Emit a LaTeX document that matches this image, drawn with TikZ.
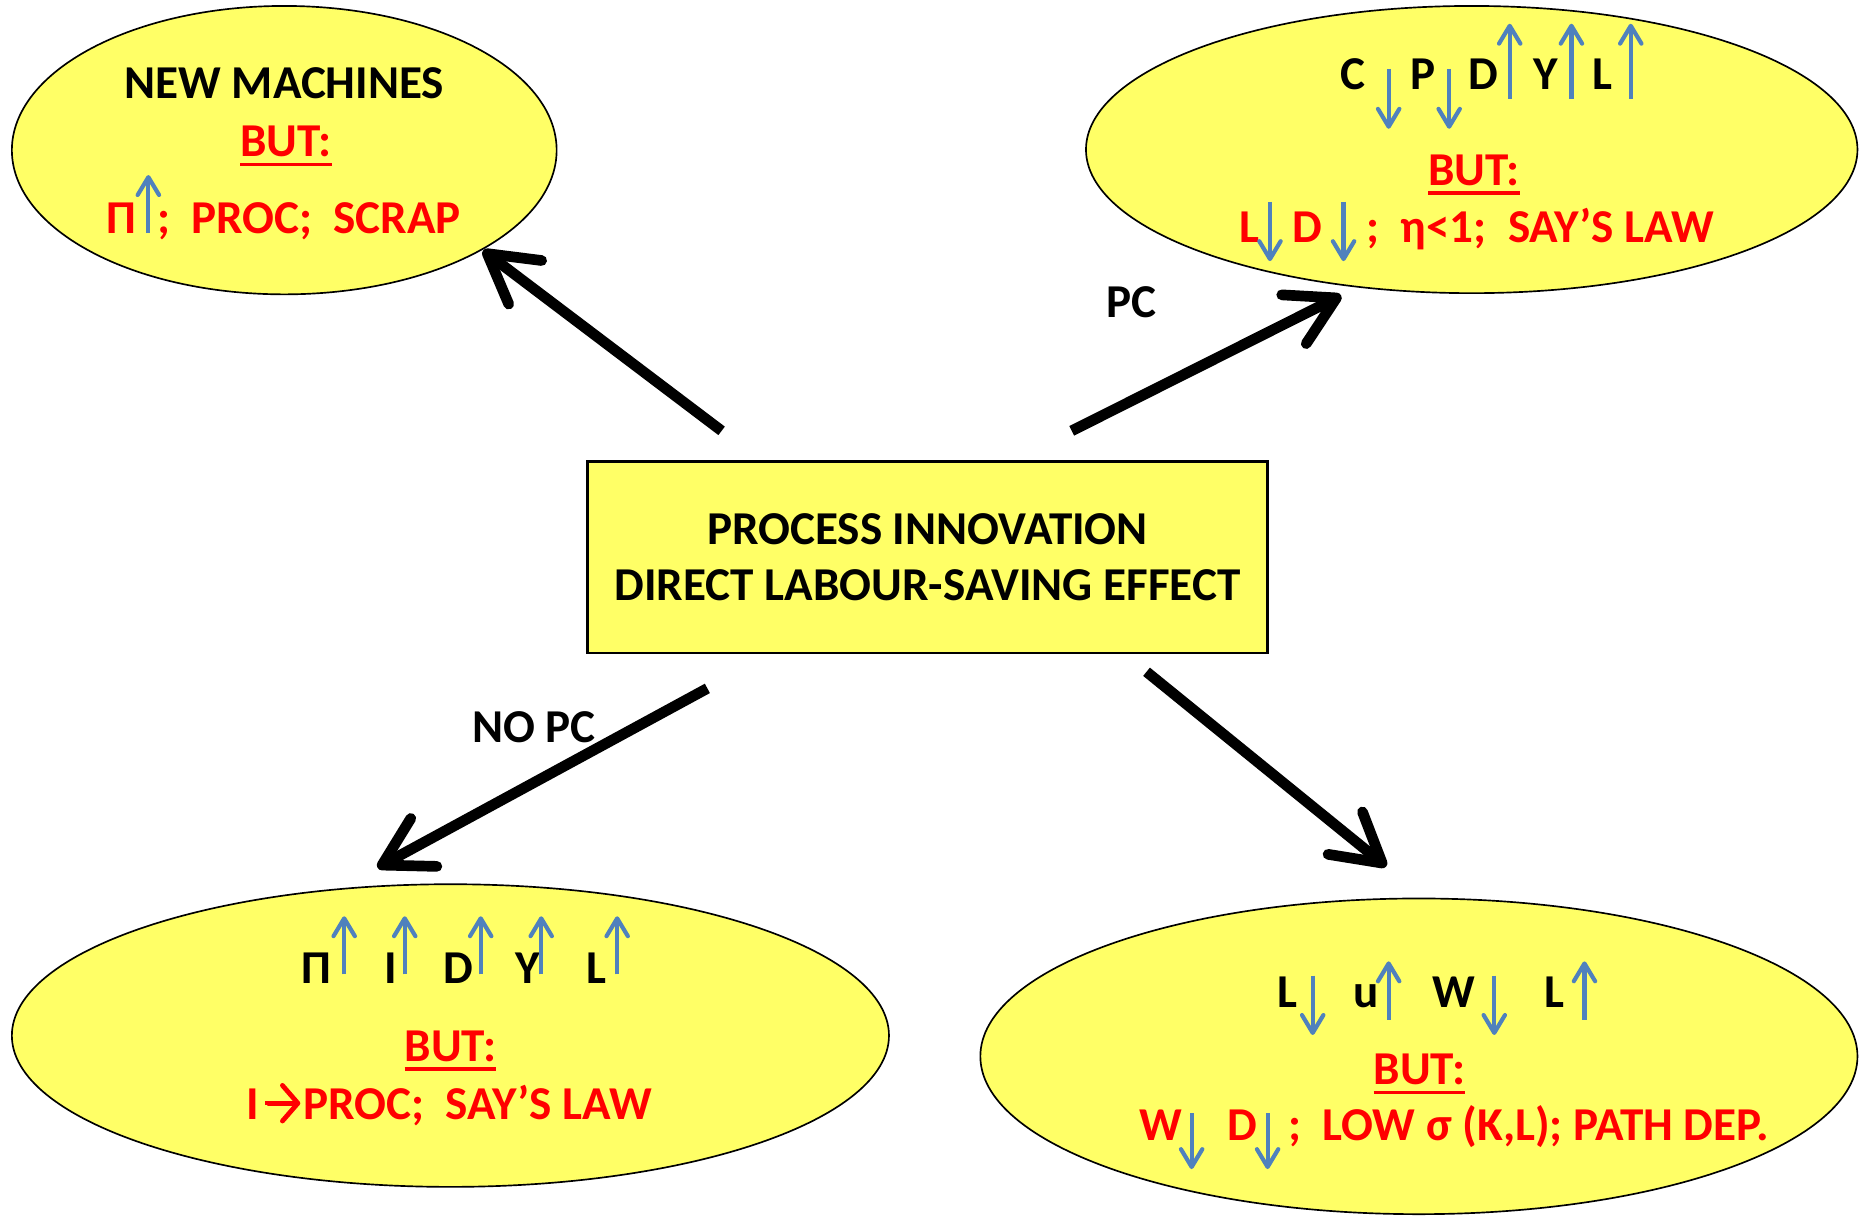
\documentclass[tikz,border=0pt]{standalone}
\usepackage{fontspec}
\setmainfont{Carlito}
\usetikzlibrary{shapes.geometric, arrows.meta}
\definecolor{padyellow}{RGB}{255,255,102}
\definecolor{trendblue}{RGB}{79,129,189}
\newcommand{\butline}[1]{\setbox0\hbox{#1}\rlap{\raisebox{-0.2em}{\rule{\wd0}{0.075em}}}\box0}
\begin{document}
\begin{tikzpicture}[
    every node/.style={font=\fontsize{22.6}{27.2}\selectfont\bfseries, inner sep=0pt},
    bubble/.style={ellipse, draw, fill=padyellow, line width=0.8pt},
    txt/.style={anchor=base west},
    move/.style={draw=trendblue, line width=2pt, -{Straight Barb[round, length=0.3cm, width=0.36cm]}},
    bigarrow/.style={line width=0.18cm, -{Straight Barb[round, length=0.8cm, width=0.92cm]}}]
    \useasboundingbox (0,0) rectangle (31.36,-20.49);
    % centre box
    \node[draw, fill=padyellow, line width=1.2pt, minimum width=11.46cm, minimum height=3.22cm, align=center] (proc) at (15.63,-9.39) {PROCESS INNOVATION\\DIRECT LABOUR-SAVING EFFECT};
    % the four bubbles
    \node[bubble, minimum width=9.18cm, minimum height=4.86cm] (machines) at (4.79,-2.53) {};
    \node[bubble, minimum width=13cm, minimum height=4.84cm] (pc) at (24.8,-2.52) {};
    \node[bubble, minimum width=14.78cm, minimum height=5.1cm] (nopc) at (7.59,-17.45) {};
    \node[bubble, minimum width=14.78cm, minimum height=5.32cm] (wage) at (23.91,-17.8) {};
    % new machines
    \node[anchor=base] (newm) at (4.79,-1.66) {NEW MACHINES};
    \node[anchor=base, text=red] (but1) at (4.82,-2.64) {\butline{BUT:}};
    \node[txt, text=red] (pi1) at (1.78,-3.93) {Π};
    \node[txt, text=red] (scrap) at (2.64,-3.93) {;~~PROC;~~SCRAP};
    \draw[move] (2.5,-3.93) -- (2.5,-2.95);
    % price compensation
    \foreach \x/\t in {22.58/C, 23.76/P, 24.74/D, 25.84/Y, 26.82/L}
        \node[txt] (pc\t) at (\x,-1.5) {\t};
    \foreach \x in {23.4, 24.42}
        \draw[move] (\x,-1.16) -- (\x,-2.17);
    \foreach \x in {25.44, 26.48, 27.48}
        \draw[move] (\x,-1.66) -- (\x,-0.40);
    \node[anchor=base, text=red] (but2) at (24.84,-3.12) {\butline{BUT:}};
    \node[txt, text=red] (pcL) at (20.88,-4.08) {L};
    \node[txt, text=red] (pcD) at (21.78,-4.08) {D};
    \node[txt, text=red] (say1) at (23.02,-4.08) {;~~η<1;~~SAY’S LAW};
    \foreach \x in {21.4, 22.64}
        \draw[move] (\x,-3.4) -- (\x,-4.4);
    % no price compensation
    \foreach \x/\t in {5.08/Π, 6.48/I, 7.46/D, 8.68/Y, 9.88/L}
        \node[txt] (np\t) at (\x,-16.58) {\t};
    \foreach \x in {5.8, 6.82, 8.1, 9.12, 10.4}
        \draw[move] (\x,-16.42) -- (\x,-15.44);
    \node[anchor=base, text=red] (but3) at (7.59,-17.88) {\butline{BUT:}};
    \node[txt, text=red] (inv) at (4.14,-18.87) {I};
    \node[txt, text=red] (say2) at (5.11,-18.87) {PROC;~~SAY’S LAW};
    \coordinate (invto) at (5.06,-18.59);
    \draw[red, line width=2.3pt, -{Straight Barb[round, length=0.26cm, width=0.6cm]}] (inv.east) ++(0.14,0) |- (invto);
    % wages
    \foreach \x/\t/\n in {21.52/L/a, 22.8/u/b, 24.14/W/c, 26.02/L/d}
        \node[txt] (w\n) at (\x,-16.98) {\t};
    \foreach \x in {22.12, 25.18}
        \draw[move] (\x,-16.44) -- (\x,-17.44);
    \foreach \x in {23.4, 26.7}
        \draw[move] (\x,-17.18) -- (\x,-16.2);
    \node[anchor=base, text=red] (but4) at (23.92,-18.28) {\butline{BUT:}};
    \node[txt, text=red] (wW) at (19.2,-19.22) {W};
    \node[txt, text=red] (wD) at (20.68,-19.22) {D};
    \node[txt, text=red] (path) at (21.7,-19.22) {;~~LOW σ (K,L); PATH DEP.};
    \foreach \x in {20.08, 21.36}
        \draw[move] (\x,-18.76) -- (\x,-19.7);
    % big arrows
    \coordinate (s1) at (12.16,-7.26); \coordinate (e1) at (8.14,-4.22);
    \coordinate (s2) at (18.06,-7.26); \coordinate (e2) at (22.6,-4.98);
    \coordinate (s3) at (11.92,-11.6); \coordinate (e3) at (6.36,-14.62);
    \coordinate (s4) at (19.32,-11.32); \coordinate (e4) at (23.36,-14.6);
    \draw[bigarrow] (s1) -- (e1);
    \draw[bigarrow] (s2) -- (e2);
    \draw[bigarrow] (s3) -- (e3);
    \draw[bigarrow] (s4) -- (e4);
    \node (pclab) at (19.06,-5.1) {PC};
    \node (nopclab) at (9.0,-12.26) {NO PC};
\end{tikzpicture}
\end{document}
